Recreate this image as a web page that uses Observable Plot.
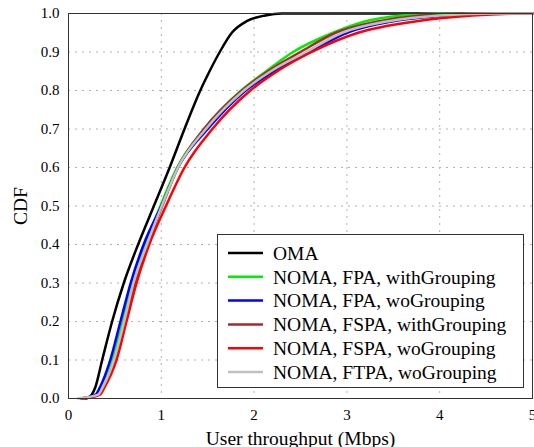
<!DOCTYPE html>
<html><head><meta charset="utf-8">
<script src="https://cdn.jsdelivr.net/npm/d3@7"></script>
<script src="https://cdn.jsdelivr.net/npm/@observablehq/plot@0.6"></script>
<style>body{margin:0;background:#fff} svg text{font-family:"Liberation Serif","Times New Roman",serif !important;}</style>
</head><body><div id="chart"></div>
<script>
const seriesNames = [
  "OMA",
  "NOMA, FPA, withGrouping",
  "NOMA, FPA, woGrouping",
  "NOMA, FSPA, withGrouping",
  "NOMA, FSPA, woGrouping",
  "NOMA, FTPA, woGrouping"
];
const seriesColors = ["#000000", "#00ee00", "#0000ff", "#a52a2a", "#ff0000", "#c0c0c0"];
const cdfLevels = [0, 0.01, 0.03, 0.1, 0.2, 0.3, 0.4, 0.5, 0.6, 0.7, 0.8, 0.85, 0.9, 0.95, 0.98, 0.995, 1];
const xOMA       = [0.19, 0.25, 0.29, 0.363, 0.47, 0.596, 0.75, 0.92, 1.09, 1.25, 1.42, 1.52, 1.63, 1.76, 1.92, 2.12, 2.30];
const xFPAwith   = [0.14, 0.31, 0.36, 0.47, 0.585, 0.69, 0.83, 0.99, 1.17, 1.46, 1.86, 2.13, 2.42, 2.85, 3.20, 3.60, 4.00];
const xFPAwo     = [0.13, 0.29, 0.34, 0.45, 0.56, 0.67, 0.81, 1.00, 1.18, 1.50, 1.91, 2.22, 2.60, 3.00, 3.50, 4.10, 4.80];
const xFSPAwith  = [0.14, 0.33, 0.38, 0.50, 0.61, 0.715, 0.855, 1.01, 1.18, 1.46, 1.87, 2.15, 2.50, 2.88, 3.35, 3.80, 4.30];
const xFSPAwo    = [0.16, 0.34, 0.39, 0.517, 0.625, 0.733, 0.87, 1.05, 1.25, 1.55, 1.96, 2.25, 2.62, 3.12, 3.75, 4.35, 4.90];
const xFTPAwo    = [0.10, 0.32, 0.37, 0.49, 0.60, 0.70, 0.845, 1.005, 1.18, 1.48, 1.89, 2.18, 2.56, 2.95, 3.45, 4.00, 4.60];
const seriesX = [xOMA, xFPAwith, xFPAwo, xFSPAwith, xFSPAwo, xFTPAwo];
const xTicks = [0, 1, 2, 3, 4, 5];
const yTicks = [0, 0.1, 0.2, 0.3, 0.4, 0.5, 0.6, 0.7, 0.8, 0.9, 1.0];
const xMax = 5;

const rows = [];
seriesX.forEach((xs, i) => {
  xs.forEach((x, j) => rows.push({series: seriesNames[i], x, cdf: cdfLevels[j]}));
  rows.push({series: seriesNames[i], x: xMax, cdf: 1});
});

const plot = Plot.plot({
  width: 534, height: 447,
  marginLeft: 68, marginRight: 2, marginTop: 13, marginBottom: 49,
  style: {fontFamily: "'Liberation Serif', 'Times New Roman', serif", fontSize: "15px", background: "#fff", color: "#000"},
  x: {domain: [0, 5], ticks: xTicks, label: null},
  y: {domain: [0, 1], ticks: yTicks, label: null},
  color: {domain: seriesNames, range: seriesColors},
  marks: [
    Plot.gridX(xTicks.slice(1, -1), {stroke: "#b0b0b0", strokeOpacity: 1, strokeDasharray: "2,5"}),
    Plot.gridY(yTicks.slice(1, -1), {stroke: "#b0b0b0", strokeOpacity: 1, strokeDasharray: "2,5"}),
    Plot.axisX(xTicks, {tickSize: 0, tickPadding: 11, tickFormat: d => String(d), fontSize: 15, label: null}),
    Plot.axisY(yTicks, {tickSize: 0, tickPadding: 9, tickFormat: d3.format(".1f"), fontSize: 15, label: null}),
    Plot.axisX([], {label: "User throughput (Mbps)", labelAnchor: "center", labelArrow: "none", fontSize: 19.5}),
    Plot.axisY([], {label: "CDF", labelAnchor: "center", labelArrow: "none", fontSize: 19.5, labelOffset: 55}),
    Plot.line(rows, {x: "x", y: "cdf", z: "series", stroke: "series", strokeWidth: 2.5, curve: "monotone-x"}),
    Plot.frame({stroke: "#333"})
  ]
});

const svg = d3.select(plot);
const lg = svg.append("g").attr("font-size", 19.5).attr("text-anchor", "start");
lg.append("rect").attr("x", 217.5).attr("y", 234.5).attr("width", 306).attr("height", 153)
  .attr("fill", "#fff").attr("stroke", "#333");
seriesNames.forEach((name, i) => {
  const y = 253 + i * 23.8;
  lg.append("line").attr("x1", 228).attr("x2", 263).attr("y1", y).attr("y2", y)
    .attr("stroke", seriesColors[i]).attr("stroke-width", 2.5);
  lg.append("text").attr("x", 273).attr("y", y).attr("dy", "0.35em")
    .attr("text-anchor", "start").attr("fill", "#000").text(name);
});
document.getElementById("chart").appendChild(plot);
</script>
</body></html>
